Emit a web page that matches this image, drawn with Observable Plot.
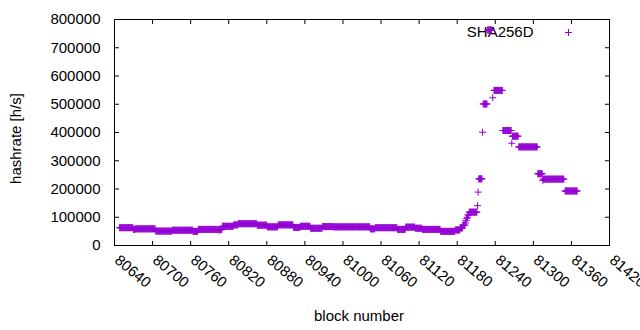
<!DOCTYPE html>
<html>
<head>
<meta charset="utf-8">
<script src="https://cdn.jsdelivr.net/npm/d3@7"></script>
<script src="https://cdn.jsdelivr.net/npm/@observablehq/plot@0.6"></script>
<style>
  html, body { margin: 0; padding: 0; background: #ffffff; }
  #chart { width: 640px; height: 330px; }
</style>
</head>
<body>
<div id="chart"></div>
<script>
// ---- data ----
// Runs of consecutive blocks that share (roughly) the same estimated hashrate.
const runStart = [80648, 80670, 80673, 80705, 80731, 80764, 80772, 80802, 80810, 80828,
                  80835, 80865, 80881, 80898, 80922, 80933, 80949, 80968, 80985, 81043,
                  81051, 81086, 81099, 81114, 81125, 81154, 81177, 81185, 81189, 81193,
                  81194, 81195, 81196, 81197, 81199, 81212, 81213, 81214, 81220, 81221,
                  81228, 81236, 81238, 81252, 81266, 81267, 81277, 81307, 81315, 81316,
                  81350];
const runEnd   = [80669, 80672, 80704, 80730, 80763, 80771, 80801, 80809, 80827, 80834,
                  80864, 80880, 80897, 80921, 80932, 80948, 80967, 80984, 81042, 81050,
                  81085, 81098, 81113, 81124, 81153, 81176, 81184, 81188, 81192, 81193,
                  81194, 81195, 81196, 81198, 81211, 81212, 81213, 81219, 81220, 81227,
                  81234, 81236, 81251, 81265, 81266, 81276, 81306, 81314, 81315, 81348,
                  81369];
const runValue = [63000, 57000, 59000, 51000, 54000, 50000, 57000, 56000, 68000, 73000,
                  77000, 72000, 66000, 73000, 64000, 68000, 61000, 67000, 66000, 59000,
                  63000, 57000, 65000, 61000, 57000, 50000, 55000, 62000, 72000, 80000,
                  88000, 95000, 100000, 108000, 118000, 141000, 189000, 236000, 401000, 501000,
                  763000, 523000, 549000, 407000, 362000, 387000, 349000, 254000, 230000, 235000,
                  193000];

const xTicks = [80640, 80700, 80760, 80820, 80880, 80940, 81000, 81060, 81120, 81180, 81240, 81300, 81360, 81420];
const yTicks = [0, 100000, 200000, 300000, 400000, 500000, 600000, 700000, 800000];
const seriesName = "SHA256D";
const xLabel = "block number";
const yLabel = "hashrate [h/s]";

// one point per block, decoded from the runs above
const points = [];
runStart.forEach((s, i) => {
  for (let b = s; b <= runEnd[i]; b++) points.push({block: b, hashrate: runValue[i]});
});

const color = "#9400d3";
const tick = (dx, dy) => ({draw(ctx) { ctx.moveTo(0, 0); ctx.lineTo(dx, dy); }});

const chart = Plot.plot({
  width: 640,
  height: 330,
  marginLeft: 114,
  marginRight: 31,
  marginTop: 19,
  marginBottom: 85,
  style: {fontFamily: "'Liberation Sans', Arial, sans-serif", fontSize: "15px", background: "#ffffff", color: "#000", overflow: "visible"},
  x: {domain: [80640, 81420], axis: null},
  y: {domain: [0, 800000], axis: null},
  marks: [
    // inward ticks on all four sides
    Plot.dot(yTicks, {y: d => d, frameAnchor: "left", symbol: tick(4.5, 0), stroke: "#000", fill: "none", strokeWidth: 1}),
    Plot.dot(yTicks, {y: d => d, frameAnchor: "right", symbol: tick(-4.5, 0), stroke: "#000", fill: "none", strokeWidth: 1}),
    Plot.dot(xTicks, {x: d => d, frameAnchor: "bottom", symbol: tick(0, -4.5), stroke: "#000", fill: "none", strokeWidth: 1}),
    Plot.dot(xTicks, {x: d => d, frameAnchor: "top", symbol: tick(0, 4.5), stroke: "#000", fill: "none", strokeWidth: 1}),
    // tick labels
    Plot.text(yTicks, {y: d => d, frameAnchor: "left", textAnchor: "end", lineAnchor: "middle", dx: -14, text: d => String(d), fill: "#000"}),
    Plot.text(xTicks, {x: d => d, frameAnchor: "bottom", textAnchor: "start", lineAnchor: "top", rotate: 40, dx: 6, dy: 8, text: d => String(d), fill: "#000"}),
    // axis titles
    Plot.text([xLabel], {frameAnchor: "bottom", textAnchor: "middle", lineAnchor: "middle", text: d => d, dx: -3, dy: 71, fill: "#000"}),
    Plot.text([yLabel], {frameAnchor: "left", textAnchor: "middle", lineAnchor: "middle", text: d => d, rotate: -90, dx: -98, dy: 6, fill: "#000"}),
    // key
    Plot.text([seriesName], {frameAnchor: "top-right", textAnchor: "end", lineAnchor: "middle", text: d => d, dx: -76, dy: 13, fill: "#000"}),
    Plot.dot([seriesName], {frameAnchor: "top-right", dx: -41, dy: 13, symbol: "plus", r: 2.4, stroke: color, strokeWidth: 1}),
    // data
    Plot.dot(points, {x: "block", y: "hashrate", symbol: "plus", r: 2.4, stroke: color, strokeWidth: 1}),
    Plot.frame({stroke: "#000", strokeWidth: 1})
  ]
});
document.getElementById("chart").appendChild(chart);
</script>
</body>
</html>
